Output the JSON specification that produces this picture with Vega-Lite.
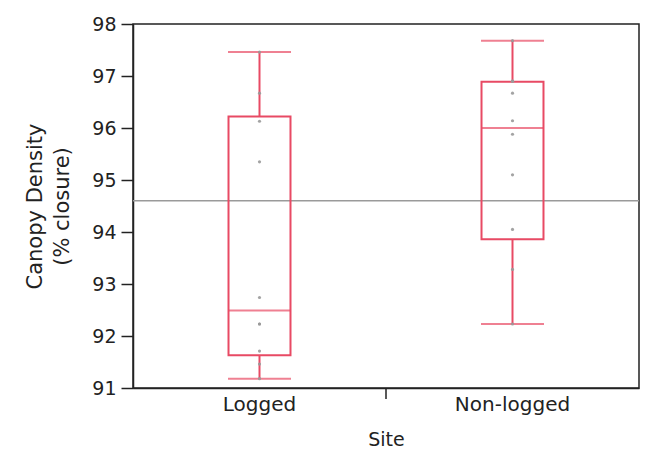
{
  "$schema": "https://vega.github.io/schema/vega-lite/v6.json",
  "width": 506,
  "height": 364,
  "autosize": {"type": "none"},
  "padding": {"left": 133, "top": 24, "right": 7, "bottom": 78},
  "background": "white",
  "config": {
    "font": "DejaVu Sans",
    "view": {"stroke": "#222", "strokeWidth": 1.5}
  },
  "datasets": {
    "points": [
      {"site": "Logged", "density": 97.46},
      {"site": "Logged", "density": 96.67},
      {"site": "Logged", "density": 96.13},
      {"site": "Logged", "density": 95.35},
      {"site": "Logged", "density": 92.74},
      {"site": "Logged", "density": 92.23},
      {"site": "Logged", "density": 92.23},
      {"site": "Logged", "density": 91.71},
      {"site": "Logged", "density": 91.46},
      {"site": "Logged", "density": 91.18},
      {"site": "Non-logged", "density": 97.68},
      {"site": "Non-logged", "density": 96.9},
      {"site": "Non-logged", "density": 96.9},
      {"site": "Non-logged", "density": 96.67},
      {"site": "Non-logged", "density": 96.14},
      {"site": "Non-logged", "density": 95.88},
      {"site": "Non-logged", "density": 95.1},
      {"site": "Non-logged", "density": 94.05},
      {"site": "Non-logged", "density": 93.28},
      {"site": "Non-logged", "density": 92.23}
    ],
    "boxes": [
      {"site": "Logged", "lo": 91.18, "q1": 91.63, "median": 92.49, "q3": 96.22, "hi": 97.46},
      {"site": "Non-logged", "lo": 92.23, "q1": 93.86, "median": 96.0, "q3": 96.89, "hi": 97.68}
    ],
    "divider": [{"site": "Non-logged", "top": 91, "bottom": 90.79}]
  },
  "layer": [
    {
      "data": {"name": "points"},
      "mark": {"type": "rule", "color": "#9a9a9a", "strokeWidth": 1.5},
      "encoding": {
        "y": {"aggregate": "mean", "field": "density", "type": "quantitative",
              "scale": {"domain": [91, 98], "nice": false, "zero": false},
              "axis": {
                "title": ["Canopy Density", "(% closure)"],
                "titleFontSize": 21, "titleFontWeight": "normal", "titleColor": "#222",
                "titlePadding": 19, "titleLineHeight": 27,
                "labelFontSize": 19, "labelColor": "#222", "labelPadding": 5, "format": "d",
                "tickSize": 12, "tickColor": "#222", "tickWidth": 1.5,
                "domainColor": "#222", "domainWidth": 1.5,
                "grid": false, "values": [91, 92, 93, 94, 95, 96, 97, 98]
              }}
      }
    },
    {
      "data": {"name": "boxes"},
      "mark": {"type": "rule", "color": "#E84A64", "strokeWidth": 2},
      "encoding": {
        "x": {"field": "site", "type": "nominal",
              "scale": {"domain": ["Logged", "Non-logged"], "paddingInner": 0, "paddingOuter": 0},
              "axis": {"title": "Site", "titleFontSize": 19, "titleFontWeight": "normal", "titleColor": "#222",
                       "titlePadding": 16, "labelFontSize": 20, "labelColor": "#222", "labelAngle": 0,
                       "labelPadding": 6, "ticks": false, "domainColor": "#222", "domainWidth": 1.5, "grid": false}},
        "y": {"field": "lo", "type": "quantitative"},
        "y2": {"field": "q1"}
      }
    },
    {
      "data": {"name": "boxes"},
      "mark": {"type": "rule", "color": "#E84A64", "strokeWidth": 2},
      "encoding": {
        "x": {"field": "site", "type": "nominal"},
        "y": {"field": "q3", "type": "quantitative"},
        "y2": {"field": "hi"}
      }
    },
    {
      "data": {"name": "boxes"},
      "mark": {"type": "bar", "fillOpacity": 0, "stroke": "#E84A64", "strokeWidth": 2, "width": {"band": 0.245}},
      "encoding": {
        "x": {"field": "site", "type": "nominal"},
        "y": {"field": "q1", "type": "quantitative"},
        "y2": {"field": "q3"}
      }
    },
    {
      "data": {"name": "boxes"},
      "mark": {"type": "tick", "color": "#E84A64", "thickness": 2, "size": 63, "orient": "horizontal"},
      "encoding": {
        "x": {"field": "site", "type": "nominal"},
        "y": {"field": "median", "type": "quantitative"}
      }
    },
    {
      "data": {"name": "boxes"},
      "mark": {"type": "tick", "color": "#E84A64", "thickness": 2, "size": 63, "orient": "horizontal"},
      "encoding": {
        "x": {"field": "site", "type": "nominal"},
        "y": {"field": "lo", "type": "quantitative"}
      }
    },
    {
      "data": {"name": "boxes"},
      "mark": {"type": "tick", "color": "#E84A64", "thickness": 2, "size": 63, "orient": "horizontal"},
      "encoding": {
        "x": {"field": "site", "type": "nominal"},
        "y": {"field": "hi", "type": "quantitative"}
      }
    },
    {
      "data": {"name": "points"},
      "mark": {"type": "point", "filled": true, "size": 10, "color": "#999999", "opacity": 0.9},
      "encoding": {
        "x": {"field": "site", "type": "nominal"},
        "y": {"field": "density", "type": "quantitative"}
      }
    },
    {
      "data": {"name": "divider"},
      "mark": {"type": "rule", "color": "#222", "strokeWidth": 1.5, "clip": false},
      "encoding": {
        "x": {"field": "site", "type": "nominal", "bandPosition": 0},
        "y": {"field": "top", "type": "quantitative"},
        "y2": {"field": "bottom"}
      }
    }
  ]
}
